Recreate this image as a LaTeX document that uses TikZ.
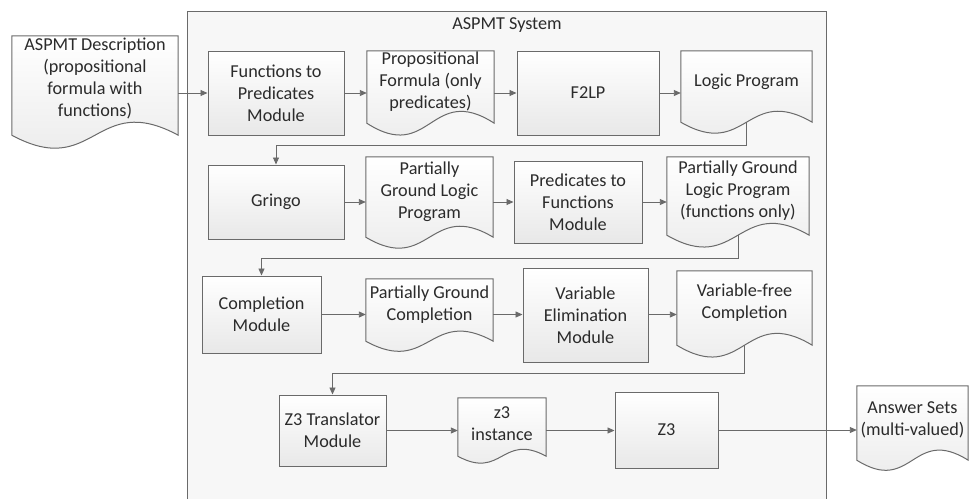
\documentclass[tikz,border=0pt]{standalone}
\usepackage{fontspec}
\setmainfont{Carlito}
\usetikzlibrary{arrows.meta,calc}
\definecolor{ln}{HTML}{6A6A6A}
\definecolor{tx}{HTML}{2B2B2B}
\pgfdeclarelayer{back}
\pgfdeclarelayer{bg}
\pgfsetlayers{back,bg,main}
\newcommand\docshape[2]{%
  \begin{pgfonlayer}{bg}
  \path[docline] (#1.south west) -- (#1.north west) -- (#1.north east) -- (#1.south east)
    .. controls ($(#1.south)+(0,-#2)$) and ($(#1.south)+(0,#2)$) .. (#1.south west) -- cycle;
  \end{pgfonlayer}}
\begin{document}
\begin{tikzpicture}[x={(1pt,0)}, y={(0,-1pt)},
  font=\fontsize{18.2}{22}\selectfont,
  box/.style={draw=ln, line width=1pt, top color=white, bottom color=black!9, text=tx, align=center, inner sep=0pt},
  docbox/.style={inner sep=0pt, draw=none},
  doctext/.style={yshift=5pt, align=center, text=tx},
  docline/.style={draw=ln, line width=1pt, top color=white, bottom color=black!9},
  arr/.style={draw=ln, line width=0.9pt, -{Triangle[length=7pt,width=6pt]}},
]
\useasboundingbox (0,0) rectangle (969,499);
\begin{pgfonlayer}{back}
\path[fill=black!3] (187,11) rectangle (826,499);
\draw[ln, line width=1pt] (187,499) -- (187,11) -- (826,11) -- (826,499);
\end{pgfonlayer}
\node[text=tx] (title) at (507,25) {ASPMT System};

% documents
\node[docbox, minimum width=166pt, minimum height=99pt,
  label={[doctext,yshift=2.5pt]center:ASPMT Description\\(propositional\\formula with\\functions)}] (desc) at (95,85.5) {};
\docshape{desc}{45}
\node[docbox, minimum width=127pt, minimum height=72pt,
  label={[doctext]center:Propositional\\Formula (only\\predicates)}] (prop) at (430.5,87) {};
\docshape{prop}{41}
\node[docbox, minimum width=131pt, minimum height=71pt,
  label={[doctext]center:Logic Program}] (lp) at (746.5,86.5) {};
\docshape{lp}{38}
\node[docbox, minimum width=127pt, minimum height=80pt,
  label={[doctext]center:Partially\\Ground Logic\\Program}] (pglp) at (429.5,197) {};
\docshape{pglp}{38}
\node[docbox, minimum width=142pt, minimum height=78pt,
  label={[doctext]center:Partially Ground\\Logic Program\\(functions only)}] (pglpf) at (738,196) {};
\docshape{pglpf}{41}
\node[docbox, minimum width=127pt, minimum height=62pt,
  label={[doctext]center:Partially Ground\\Completion}] (pgc) at (429.5,310) {};
\docshape{pgc}{35}
\node[docbox, minimum width=135pt, minimum height=74pt,
  label={[doctext]center:Variable-free\\Completion}] (vfc) at (744.5,308) {};
\docshape{vfc}{41}
\node[docbox, minimum width=88pt, minimum height=58pt,
  label={[doctext,yshift=-2pt]center:z3\\instance}] (z3i) at (502,427) {};
\docshape{z3i}{24}
\node[docbox, minimum width=111pt, minimum height=74pt,
  label={[doctext,yshift=-2pt]center:Answer Sets\\(multi-valued)}] (ans) at (912.5,423) {};
\docshape{ans}{35}

% process boxes
\node[box, minimum width=136pt, minimum height=84pt] (f2p) at (276,93) {Functions to\\Predicates\\Module};
\node[box, minimum width=142pt, minimum height=84pt] (f2lp) at (588,93) {F2LP};
\node[box, minimum width=136pt, minimum height=74pt] (gringo) at (276,202) {Gringo};
\node[box, minimum width=128pt, minimum height=82pt] (p2f) at (578,202) {Predicates to\\Functions\\Module};
\node[box, minimum width=119pt, minimum height=77pt] (comp) at (261.5,314.5) {Completion\\Module};
\node[box, minimum width=125pt, minimum height=94pt] (varelim) at (585.5,315) {Variable\\Elimination\\Module};
\node[box, minimum width=107pt, minimum height=71pt] (z3t) at (332.5,430.5) {Z3 Translator\\Module};
\node[box, minimum width=103pt, minimum height=76pt] (z3) at (666.5,430) {Z3};

% connectors
\draw[arr] (desc.east |- f2p.west) -- (f2p.west);
\draw[arr] (f2p.east) -- (prop.west |- f2p);
\draw[arr] (prop.east |- f2lp) -- (f2lp.west);
\draw[arr] (f2lp.east) -- (lp.west |- f2lp);
\draw[arr] (lp.south) -- ++(0,23) -| (gringo.north);
\draw[arr] (gringo.east) -- (pglp.west |- gringo);
\draw[arr] (pglp.east |- gringo) -- (p2f.west |- gringo);
\draw[arr] (p2f.east) -- (pglpf.west |- p2f);
\draw[arr] (pglpf.south) -- ++(0,23) -| (comp.north);
\draw[arr] (comp.east) -- (pgc.west |- comp);
\draw[arr] (pgc.east |- comp) -- (varelim.west |- comp);
\draw[arr] (varelim.east |- comp) -- (vfc.west |- comp);
\draw[arr] (vfc.south) -- ++(0,28) -| (z3t.north);
\draw[arr] (z3t.east) -- (z3i.west |- z3t);
\draw[arr] (z3i.east |- z3t) -- (z3.west |- z3t);
\draw[arr] (z3.east) -- (ans.west |- z3);
\end{tikzpicture}
\end{document}
